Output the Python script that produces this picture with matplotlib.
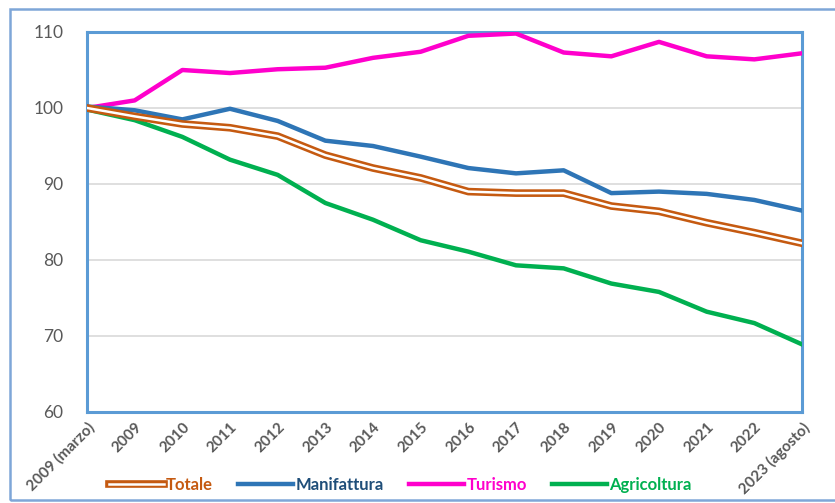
import matplotlib
matplotlib.use("Agg")
import matplotlib.pyplot as plt
import matplotlib.patheffects as pe
from matplotlib.patches import Rectangle

# Indici occupazione (base 2009 marzo = 100)
periodi = ["2009 (marzo)", "2009", "2010", "2011", "2012", "2013", "2014", "2015",
           "2016", "2017", "2018", "2019", "2020", "2021", "2022", "2023 (agosto)"]
totale = [100.0, 98.9, 97.9, 97.4, 96.3, 93.8, 92.1, 90.8,
          89.0, 88.8, 88.8, 87.1, 86.4, 84.9, 83.6, 82.2]
manifattura = [100.2, 99.7, 98.5, 99.9, 98.3, 95.7, 95.0, 93.6,
               92.1, 91.4, 91.8, 88.8, 89.0, 88.7, 87.9, 86.5]
turismo = [100.0, 101.0, 105.0, 104.6, 105.1, 105.3, 106.6, 107.4,
           109.5, 109.8, 107.3, 106.8, 108.7, 106.8, 106.4, 107.2]
agricoltura = [99.8, 98.4, 96.2, 93.2, 91.2, 87.5, 85.3, 82.6,
               81.1, 79.3, 78.9, 76.9, 75.8, 73.2, 71.7, 68.9]

c_tot = "#C55A11"
c_man = "#2E75B6"
c_tur = "#FF00CC"
c_agr = "#00B050"
c_frame = "#5B9BD5"

plt.rcParams['font.family'] = ['Lato', 'DejaVu Sans']

fig = plt.figure(figsize=(8.35, 5.03), dpi=100)
ax = fig.add_axes([87 / 835, 91 / 503, 715 / 835, 380 / 503])

x = list(range(len(periodi)))

ax.plot(x, agricoltura, color=c_agr, lw=3.2, label="Agricoltura", zorder=3)
ax.plot(x, turismo, color=c_tur, lw=3.2, label="Turismo", zorder=3)
ax.plot(x, manifattura, color=c_man, lw=3.2, label="Manifattura", zorder=3)
# double line: thick orange stroke with white core
ax.plot(x, totale, color="white", lw=1.8, label="Totale", zorder=4,
        path_effects=[pe.Stroke(linewidth=5.5, foreground=c_tot), pe.Normal()])

ax.set_xlim(0, len(periodi) - 1)
ax.set_ylim(60, 110)
ax.set_yticks([60, 70, 80, 90, 100, 110])
ax.yaxis.grid(True, color="#D9D9D9", lw=1.2)
ax.set_axisbelow(True)

ax.set_xticks(x)
ax.set_xticklabels(periodi, rotation=45, ha="right", va="top",
                   rotation_mode="anchor", fontsize=11, fontweight="bold",
                   color="#595959")
ax.tick_params(axis="x", length=0, pad=6)
ax.tick_params(axis="y", length=0, pad=17, labelsize=12.5, labelcolor="#595959")

for s in ax.spines.values():
    s.set_color(c_frame)
    s.set_linewidth(2.2)

# legend in the order Totale, Manifattura, Turismo, Agricoltura
h, l = ax.get_legend_handles_labels()
order = [3, 2, 1, 0]
leg = fig.legend([h[i] for i in order], [l[i] for i in order],
                 loc="center", bbox_to_anchor=(400 / 835, 1 - 485 / 503),
                 ncol=4, frameon=False, handlelength=3.3,
                 handletextpad=0.15, columnspacing=1.5,
                 prop={"weight": "bold", "size": 12})
for txt, col in zip(leg.get_texts(), [c_tot, "#1F4E79", c_tur, c_agr]):
    txt.set_color(col)

# outer frame around the whole chart
fig.patches.append(Rectangle((10 / 835, 3 / 503), 830 / 835, 491 / 503,
                             transform=fig.transFigure, fill=False,
                             edgecolor="#7EA6D8", lw=1.8))

fig.savefig("out.png", dpi=100)
